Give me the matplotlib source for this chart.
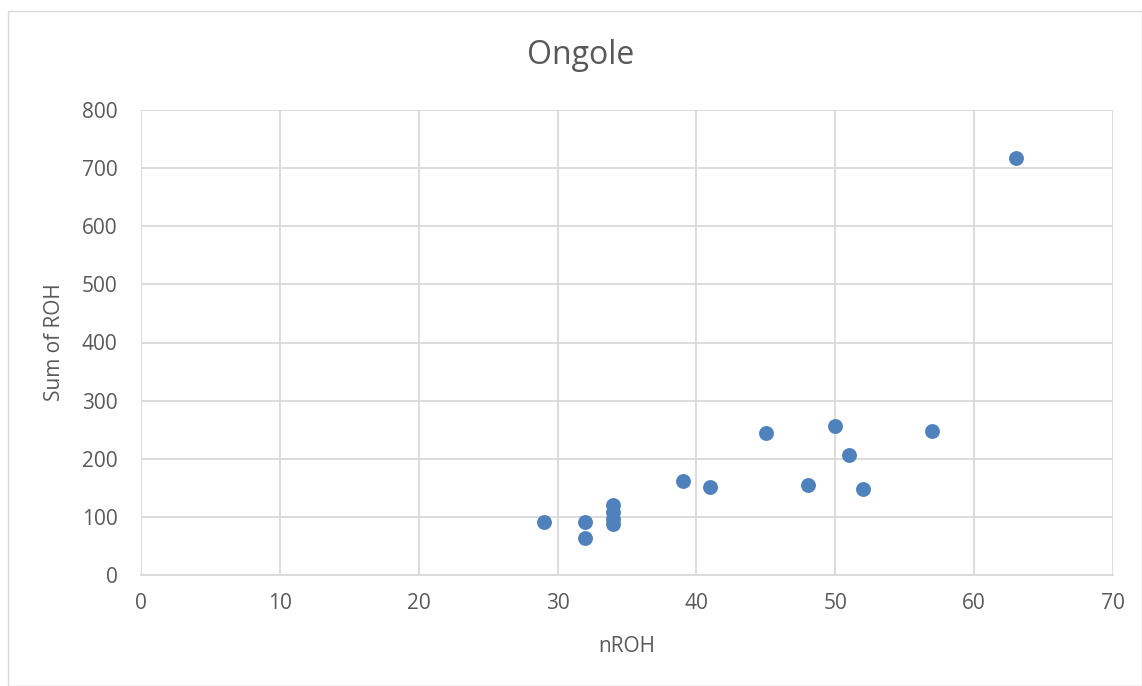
import matplotlib
matplotlib.use("Agg")
import matplotlib.pyplot as plt
from matplotlib.patches import Rectangle

# nROH vs sum of ROH, Ongole
nroh = [29, 32, 32, 34, 34, 34, 34, 39, 41, 45, 48, 50, 51, 52, 57, 63]
sum_roh = [92, 92, 63, 120, 108, 97, 88, 161, 151, 245, 155, 257, 206, 148, 247, 718]

x_ticks = [0, 10, 20, 30, 40, 50, 60, 70]
y_ticks = [0, 100, 200, 300, 400, 500, 600, 700, 800]

plt.rcParams['font.family'] = ['Open Sans', 'DejaVu Sans']
text_col = "#595959"
grid_col = "#d9d9d9"

fig = plt.figure(figsize=(11.42, 6.86), dpi=100)
# chart area border
fig.patches.append(Rectangle((8 / 1142, 0), 1 - 8 / 1142, 1 - 11 / 686,
                             transform=fig.transFigure, fill=False,
                             edgecolor=grid_col, linewidth=1))

ax = fig.add_axes([141 / 1142, 111 / 686, 972 / 1142, 465 / 686])
ax.scatter(nroh, sum_roh, s=115, color="#4f81bd", zorder=3, linewidths=0)

ax.set_xlim(0, 70)
ax.set_ylim(0, 800)
ax.set_xticks(x_ticks)
ax.set_yticks(y_ticks)
ax.grid(True, color=grid_col, linewidth=1.3, zorder=0)
for side in ["top", "right", "left"]:
    ax.spines[side].set_visible(False)
ax.spines["bottom"].set_color(grid_col)
ax.spines["bottom"].set_linewidth(1.3)
ax.tick_params(length=0, labelsize=15, colors=text_col)
ax.tick_params(axis="y", pad=17)
ax.tick_params(axis="x", pad=13)

ax.set_xlabel("nROH", fontsize=15, color=text_col, labelpad=16)
ax.set_ylabel("Sum of ROH", fontsize=15, color=text_col, labelpad=12)
fig.text(581 / 1142, 1 - 56 / 686, "Ongole", fontsize=23, color=text_col,
         ha="center", va="center")

fig.savefig("out.png", dpi=100)
